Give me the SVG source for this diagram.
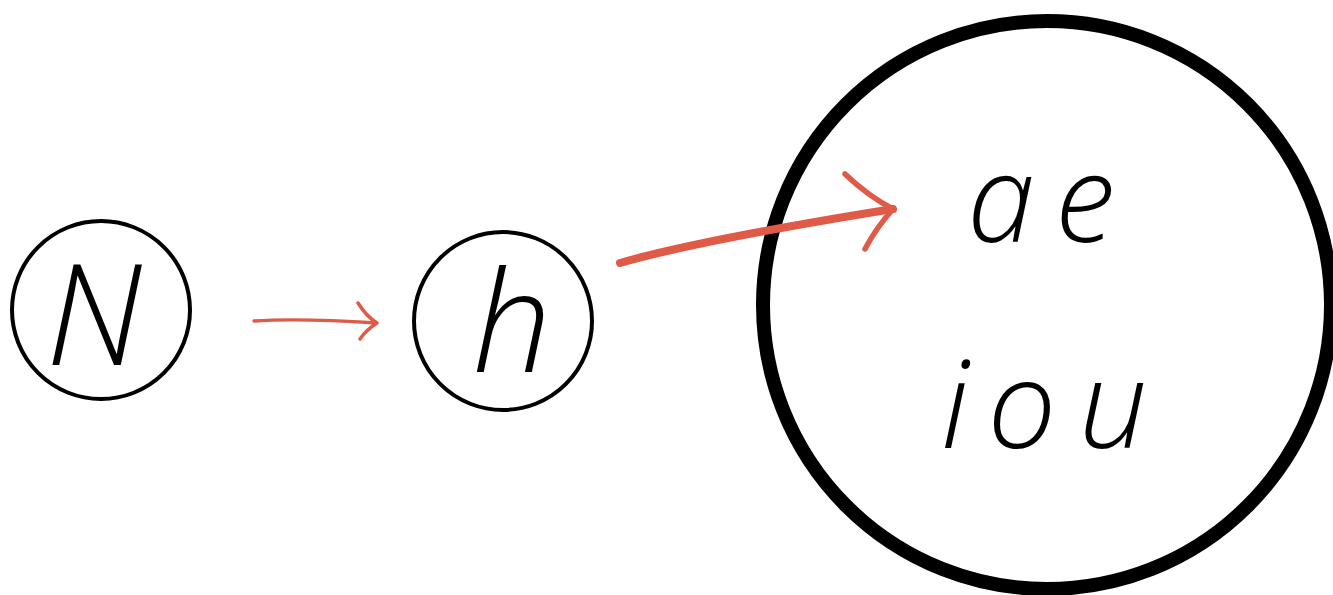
<svg xmlns="http://www.w3.org/2000/svg" width="1333" height="595" viewBox="0 0 1333 595">
<style>
.node{fill:none;stroke:#000;stroke-width:4}
.big{fill:none;stroke:#000;stroke-width:14}
.lbl{font-family:"Open Sans","DejaVu Sans",sans-serif;font-style:italic;font-weight:300;fill:#000;text-anchor:middle}
.edge{fill:none;stroke:#e05a48;stroke-linecap:round;stroke-linejoin:round}
</style>
<rect width="1333" height="595" fill="#fff"/>
<g id="node-N">
<circle class="node" cx="101" cy="310" r="89"/>
<text class="lbl" x="94" y="365" font-size="140">N</text>
</g>
<g id="node-h">
<circle class="node" cx="503" cy="321" r="89"/>
<text class="lbl" x="512" y="372" font-size="140">h</text>
</g>
<g id="node-vowels">
<circle class="big" cx="1047" cy="305" r="284"/>
<text class="lbl" x="1001" y="242" font-size="122">a</text>
<text class="lbl" x="1085" y="242" font-size="122">e</text>
<text class="lbl" x="955" y="448" font-size="122">i</text>
<text class="lbl" x="1022" y="448" font-size="122">o</text>
<text class="lbl" x="1113" y="448" font-size="122">u</text>
</g>
<g id="connectors">
<path class="edge" stroke-width="3.5" d="M254 321 Q300 318 377 323 M358 303 Q366 316 377 323 Q366 330 360 339"/>
<path class="edge" stroke-width="8" d="M620 263 Q700 240 893 209"/>
<path class="edge" stroke-width="5.5" d="M845 174 Q868 196 893 209 Q876 228 865 249"/>
</g>
</svg>
